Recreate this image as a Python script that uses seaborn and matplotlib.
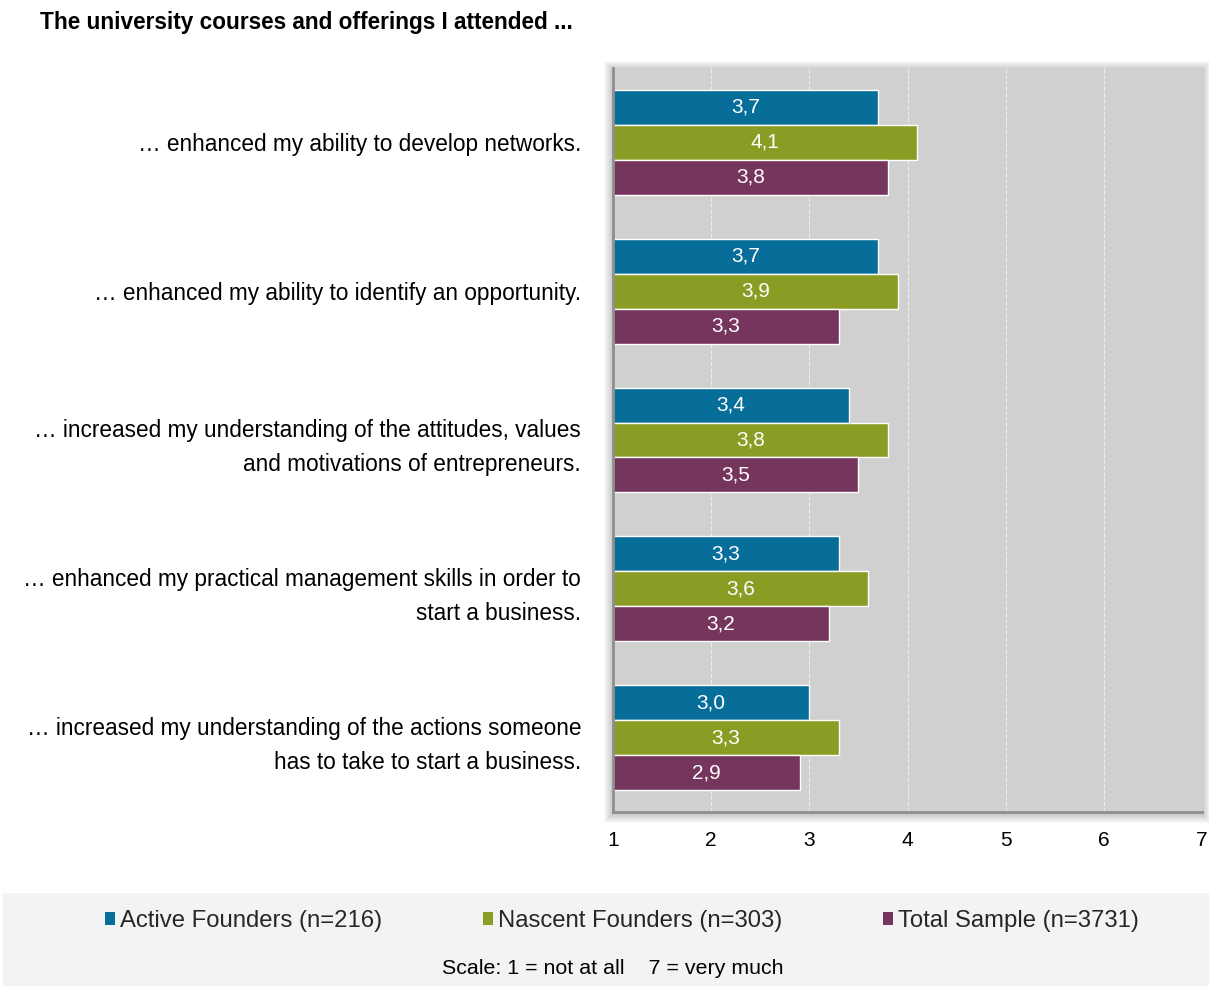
import matplotlib
matplotlib.use("Agg")
import matplotlib.pyplot as plt
from matplotlib.patches import Rectangle, Patch
import pandas as pd
import seaborn as sns

# Survey statements (top to bottom)
statements = [
    "… enhanced my ability to develop networks.",
    "… enhanced my ability to identify an opportunity.",
    "… increased my understanding of the attitudes, values\nand motivations of entrepreneurs.",
    "… enhanced my practical management skills in order to\nstart a business.",
    "… increased my understanding of the actions someone\nhas to take to start a business.",
]
groups = ["Active Founders (n=216)", "Nascent Founders (n=303)", "Total Sample (n=3731)"]
active = [3.7, 3.7, 3.4, 3.3, 3.0]
nascent = [4.1, 3.9, 3.8, 3.6, 3.3]
total = [3.8, 3.3, 3.5, 3.2, 2.9]
x_ticks = [1, 2, 3, 4, 5, 6, 7]

colors = ["#066E99", "#8B9C24", "#76355D"]

df = pd.DataFrame({
    "statement": statements * 3,
    "group": [g for g in groups for _ in statements],
    "score": active + nascent + total,
})

sns.set_theme(style="white")
plt.rcParams["font.family"] = ["Liberation Sans", "DejaVu Sans"]

W, H, DPI = 1209, 986, 100
fig = plt.figure(figsize=(W / DPI, H / DPI), dpi=DPI)

# plot area in pixels
x0, x1, y0, y1 = 613, 1202, 68, 812
ax = fig.add_axes([x0 / W, 1 - y1 / H, (x1 - x0) / W, (y1 - y0) / H])

# soft drop shadow around the plot area
for i in range(1, 10):
    fig.patches.append(Rectangle(
        ((x0 - i) / W, 1 - (y1 + i + 2) / H), (x1 - x0 + 2 * i) / W, (y1 - y0 + 2 * i) / H,
        transform=fig.transFigure, facecolor="black", edgecolor="none",
        alpha=0.025, zorder=-5))

# light panel behind the legend
fig.patches.append(Rectangle((3 / W, 0), (W - 3) / W, (H - 893) / H,
                             transform=fig.transFigure, facecolor="#F3F3F3",
                             edgecolor="none", zorder=-10))

sns.barplot(data=df, y="statement", x="score", hue="group", order=statements,
            hue_order=groups, palette=colors, orient="h", width=0.705,
            edgecolor="white", linewidth=1.0, saturation=1, ax=ax, legend=False,
            zorder=3)

ax.set_facecolor("#D0D0D0")
ax.set_xlim(1, 7)
ax.set_ylim(4.5, -0.5)
ax.set_xticks(x_ticks)
ax.set_xticklabels([str(t) for t in x_ticks], fontsize=15, color="black")
ax.tick_params(axis="x", length=0, pad=14)
ax.tick_params(axis="y", length=0, pad=23)
ax.set_yticks(range(len(statements)))
ax.set_yticklabels(statements, fontsize=16.3, color="black", ha="right",
                   linespacing=1.6)
ax.set_xlabel("")
ax.set_ylabel("")

ax.xaxis.grid(True, color="white", linewidth=0.8, linestyle=(0, (4, 1.5)), alpha=0.6, zorder=0)
ax.yaxis.grid(False)
ax.set_axisbelow(True)

for s in ["top", "right"]:
    ax.spines[s].set_visible(False)
for s in ["left", "bottom"]:
    ax.spines[s].set_color("#8F8F8F")
    ax.spines[s].set_linewidth(2)
    ax.spines[s].set_zorder(4)

# value labels centred in each bar
for cont in ax.containers:
    for bar in cont:
        v = bar.get_width()
        yc = bar.get_y() + bar.get_height() / 2
        ax.text((1 + v) / 2, yc, f"{v:.1f}".replace(".", ","), ha="center",
                va="center", color="white", fontsize=15, zorder=5)

fig.text(40 / W, 1 - 22 / H, "The university courses and offerings I attended ...",
         fontsize=16.3, fontweight="bold", ha="left", va="center", color="black")

handles = [Patch(facecolor=c, edgecolor="none") for c in colors]
fig.legend(handles, groups, loc="center", bbox_to_anchor=(622 / W, 1 - 921 / H),
           ncol=3, frameon=False, fontsize=17.2, handlelength=0.42, handleheight=0.42,
           handletextpad=0.22, columnspacing=4.2, borderaxespad=0)

fig.text(613 / W, 1 - 969 / H, "Scale: 1 = not at all    7 = very much",
         fontsize=15.4, ha="center", va="center", color="black")

fig.savefig("out.png", dpi=DPI)
